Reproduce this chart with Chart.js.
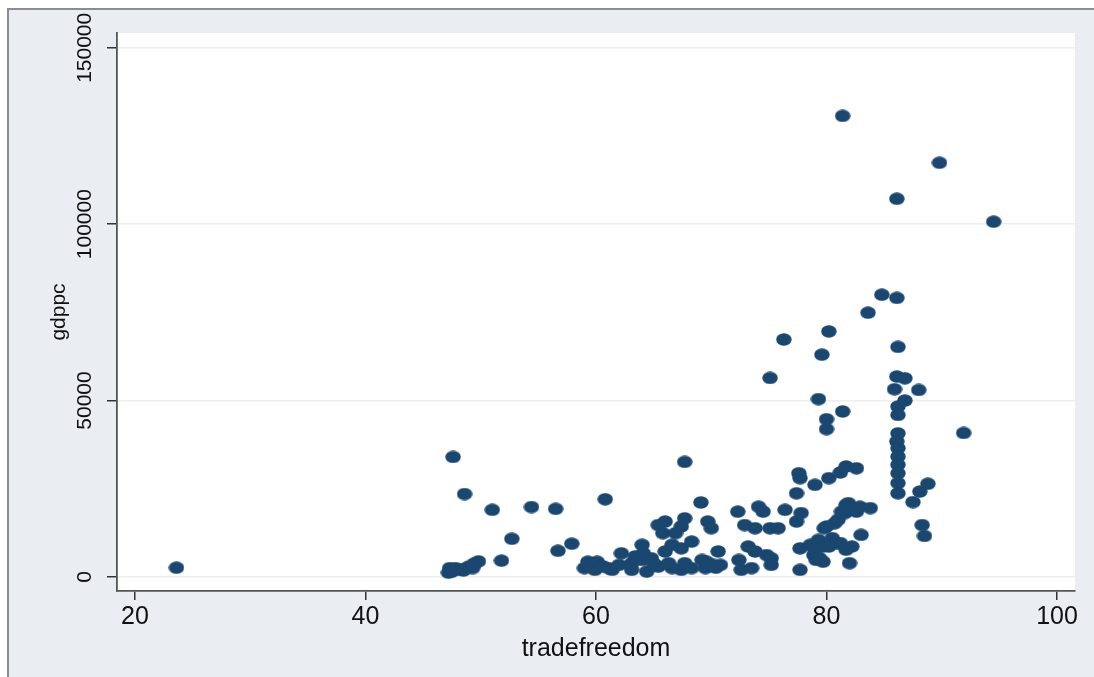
<!DOCTYPE html>
<html>
<head>
<meta charset="utf-8">
<script src="https://cdn.jsdelivr.net/npm/chart.js@4.4.1/dist/chart.umd.min.js"></script>
<style>
  html, body { margin: 0; padding: 0; background: #fff; }
  canvas { display: block; }
</style>
</head>
<body>
<canvas id="scatterChart" width="1094" height="677"></canvas>
<script>

// values, one country per index
const tradefreedom = [
    23.6, 47.2, 47.3, 47.8, 48.2, 48.8, 49.1, 49.5, 49.8, 51.8,
    47.6, 48.6, 51.0, 54.4, 56.5, 52.7, 56.7, 57.9, 60.8, 59.0,
    59.3, 59.9, 60.1, 61.1, 61.4, 62.0, 62.2, 63.1, 63.1, 63.4,
    64.0, 64.0, 64.1, 64.4, 64.8, 65.4, 65.4, 65.8, 66.0, 66.0,
    66.6, 66.6, 66.9, 67.4, 67.4, 67.4, 67.7, 67.7, 67.7, 68.3,
    68.3, 69.1, 69.2, 69.5, 69.6, 69.7, 70.0, 70.2, 70.4, 70.6,
    70.8, 72.3, 72.4, 72.6, 72.9, 73.2, 73.5, 73.8, 73.8, 74.1,
    74.5, 74.8, 75.1, 75.2, 75.2, 75.8, 76.4, 75.1, 76.3, 77.4,
    77.4, 77.6, 77.7, 77.8, 77.7, 77.7, 78.6, 78.9, 79.0, 79.0,
    79.1, 79.3, 79.4, 79.7, 79.7, 79.8, 79.3, 79.6, 80.0, 80.0,
    80.2, 80.2, 80.0, 80.2, 80.5, 80.7, 80.9, 81.0, 81.2, 81.2,
    81.3, 81.4, 81.4, 81.6, 81.7, 81.7, 81.7, 81.9, 82.0, 82.2,
    82.6, 82.6, 82.9, 83.0, 83.6, 83.8, 84.8, 85.9, 86.1, 86.1,
    86.1, 86.1, 86.2, 86.2, 86.2, 86.2, 86.2, 86.2, 86.2, 86.2,
    86.2, 86.2, 86.8, 86.8, 87.5, 88.0, 88.1, 88.8, 88.3, 88.5,
    89.8, 91.9, 94.5, 65.0, 66.3, 60.6, 47.5, 48.5, 49.3
];

const gdppc = [
    2600, 1200, 2500, 2500, 2000, 2600, 3100, 3900, 4400, 4600,
    34000, 23500, 19000, 19800, 19300, 10800, 7400, 9400, 22000, 2500,
    4300, 2000, 4300, 2500, 2000, 3400, 6700, 3900, 2000, 5800,
    4800, 9100, 6700, 1500, 5300, 2900, 14700, 12400, 15700, 7200,
    9100, 2500, 12400, 14300, 8100, 2000, 16600, 3900, 32600, 10000,
    2500, 21100, 4800, 2500, 4300, 15700, 13800, 3400, 2600, 7200,
    3400, 18500, 4800, 2000, 14700, 8600, 2500, 13800, 7200, 19900,
    18500, 6200, 13800, 5300, 3400, 13800, 19000, 56400, 67300, 23700,
    15700, 29400, 28000, 18100, 8100, 2000, 9100, 6200, 26100, 7700,
    4800, 10500, 5300, 4300, 8600, 13800, 50400, 63000, 44700, 41900,
    69600, 28000, 14300, 8600, 11000, 15200, 9600, 16200, 9600, 29600,
    18500, 46900, 130700, 18100, 20400, 31300, 7700, 20900, 3900, 8600,
    30800, 18500, 19900, 11900, 74900, 19500, 80000, 53200, 79100, 107200,
    56800, 38400, 65200, 48300, 45900, 40700, 36500, 34100, 31800, 29400,
    26600, 23700, 56300, 50000, 21200, 53000, 24200, 26400, 14700, 11600,
    117400, 40800, 100700, 3800, 3900, 3000, 1500, 1800, 2500
];

const xTicks = [20, 40, 60, 80, 100];
const yTicks = [0, 50000, 100000, 150000];

const points = tradefreedom.map((x, i) => ({ x: x, y: gdppc[i] }));

const stataFont = "'Liberation Sans', Arial, Helvetica, sans-serif";
const navy = "#1a476f";

// the markers in the picture are a bit wider than tall
function ellipseMarker(w, h){
    const c = document.createElement("canvas");
    c.width = w;
    c.height = h;
    const g = c.getContext("2d");
    g.fillStyle = navy;
    g.beginPath();
    g.ellipse(w / 2, h / 2, w / 2 - 0.3, h / 2 - 0.3, 0, 0, Math.PI * 2);
    g.fill();
    return c;
}

// grey frame and white plot region, like the Stata graph window
const background = {
    id: "background",
    beforeDraw(chart){
        const { ctx, chartArea: area, width, height } = chart;
        ctx.save();
        ctx.fillStyle = "#ffffff";
        ctx.fillRect(0, 0, width, height);
        ctx.fillStyle = "#eaeef2";
        ctx.fillRect(7, 8, width - 7, height - 8);
        ctx.strokeStyle = "#8c8c8c";
        ctx.lineWidth = 2;
        ctx.beginPath();
        ctx.moveTo(8, height);
        ctx.lineTo(8, 9);
        ctx.lineTo(width, 9);
        ctx.stroke();
        ctx.fillStyle = "#ffffff";
        ctx.fillRect(area.left, area.top, area.right - area.left, area.bottom - area.top);
        ctx.restore();
    }
};

new Chart(document.getElementById("scatterChart"), {

    type: "scatter",

    data: {
        datasets: [{
            label: "gdppc",
            data: points,
            backgroundColor: navy,
            borderColor: navy,
            borderWidth: 0,
            pointStyle: ellipseMarker(16, 13),
            pointRadius: 7,
            pointHoverRadius: 7
        }]
    },

    options: {
        responsive: false,
        animation: false,
        layout: { padding: { top: 33, right: 19, left: 0, bottom: 0 } },
        plugins: {
            legend: { display: false },
            tooltip: { enabled: false }
        },
        scales: {
            x: {
                type: "linear",
                min: 18.44,
                max: 101.56,
                afterBuildTicks: scale => { scale.ticks = xTicks.map(v => ({ value: v })); },
                afterFit: scale => { scale.height = 86; },
                grid: {
                    drawOnChartArea: false,
                    tickLength: 9,
                    tickColor: "#333",
                    lineWidth: 1.5
                },
                border: { display: true, color: "#555", width: 1.8 },
                ticks: {
                    autoSkip: false,
                    maxRotation: 0,
                    padding: 2,
                    color: "#111",
                    font: { family: stataFont, size: 25 },
                    callback: v => String(v)
                },
                title: {
                    display: true,
                    text: "tradefreedom",
                    color: "#111",
                    font: { family: stataFont, size: 25 },
                    padding: { top: 0, bottom: 13 }
                }
            },
            y: {
                type: "linear",
                min: -4000,
                max: 154200,
                afterBuildTicks: scale => { scale.ticks = yTicks.map(v => ({ value: v })); },
                afterFit: scale => { scale.width = 117; },
                grid: {
                    color: "#eceef0",
                    tickColor: "#333",
                    tickLength: 10,
                    lineWidth: 1.5
                },
                border: { display: true, color: "#555", width: 1.8 },
                ticks: {
                    minRotation: 90,
                    maxRotation: 90,
                    crossAlign: "center",
                    padding: -13,
                    color: "#111",
                    font: { family: stataFont, size: 21 },
                    callback: v => String(v)
                },
                title: {
                    display: true,
                    text: "gdppc",
                    color: "#111",
                    font: { family: stataFont, size: 21 },
                    padding: { top: 47, bottom: 0 }
                }
            }
        }
    },

    plugins: [background]

});

</script>
</body>
</html>
